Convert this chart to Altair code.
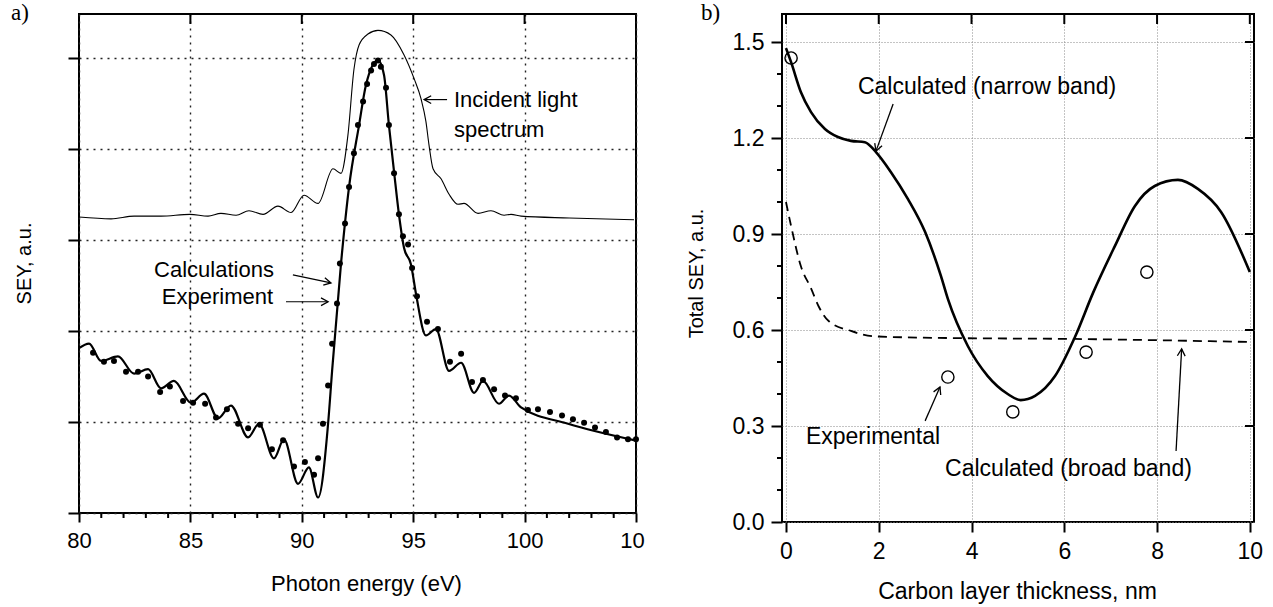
import math
import altair as alt
import pandas as pd

FONT = "Liberation Sans"
SERIF = "Liberation Serif"

# ---------------- panel a) : SEY spectrum vs photon energy ----------------
inc_energy = [80.0, 81.44, 82.47, 83.68, 84.98, 85.79, 86.37, 87.05, 87.63, 88.26,
              88.93, 89.52, 90.10, 90.73, 91.40, 91.76, 92.07, 92.34, 92.57, 92.97,
              93.42, 94.00, 94.59, 95.04, 95.35, 95.57, 95.71, 95.89, 96.25, 96.61,
              97.01, 97.28, 97.91, 98.49, 99.08, 99.39, 99.84, 102.0, 104.91]
inc_value = [3.25, 3.23, 3.26, 3.26, 3.28, 3.26, 3.29, 3.27, 3.32, 3.28,
             3.37, 3.30, 3.49, 3.40, 3.78, 3.73, 4.15, 4.87, 5.14, 5.26,
             5.30, 5.25, 5.03, 4.77, 4.55, 4.30, 4.04, 3.78, 3.67, 3.50,
             3.39, 3.40, 3.29, 3.32, 3.27, 3.28, 3.26, 3.24, 3.22]

calc_energy = [80.0, 80.45, 80.99, 81.75, 82.47, 83.10, 83.68, 84.26, 85.03, 85.61,
               86.24, 86.82, 87.59, 88.08, 88.75, 89.20, 89.83, 90.32, 90.73, 91.18,
               91.36, 91.76, 92.12, 92.57, 92.88, 93.42, 93.69, 93.91, 94.14, 94.36,
               94.59, 94.90, 95.13, 95.57, 96.02, 96.61, 97.15, 97.73, 98.13, 98.85,
               99.30, 99.84, 101.95, 104.91]
calc_value = [1.81, 1.86, 1.67, 1.72, 1.53, 1.58, 1.37, 1.45, 1.21, 1.31,
              1.04, 1.18, 0.83, 0.98, 0.60, 0.81, 0.32, 0.50, 0.17, 0.98,
              1.56, 2.74, 3.58, 4.26, 4.70, 4.97, 4.81, 4.26, 3.75, 3.28,
              2.91, 2.73, 2.40, 1.95, 2.02, 1.56, 1.65, 1.32, 1.45, 1.20,
              1.29, 1.16, 0.98, 0.80]

exp_energy = [80.63, 81.12, 81.57, 82.11, 82.65, 83.10, 83.64, 84.08, 84.67, 85.12,
              85.66, 86.15, 86.64, 87.14, 87.59, 88.12, 88.66, 89.16, 89.65, 90.14,
              90.55, 90.73, 90.95, 91.18, 91.36, 91.58, 91.71, 91.94, 92.12, 92.34,
              92.52, 92.75, 92.93, 93.11, 93.24, 93.42, 93.55, 93.78, 93.91, 94.14,
              94.36, 94.54, 94.77, 94.95, 95.17, 95.62, 96.11, 96.65, 97.15, 97.64,
              98.13, 98.63, 99.12, 99.61, 100.15, 100.60, 101.14, 101.68, 102.17, 102.67,
              103.16, 103.65, 104.15, 104.64, 105.0]
exp_value = [1.76, 1.66, 1.67, 1.55, 1.55, 1.50, 1.33, 1.39, 1.23, 1.21,
             1.20, 1.05, 1.14, 0.98, 0.93, 0.97, 0.70, 0.80, 0.51, 0.56,
             0.42, 0.60, 0.98, 1.40, 1.86, 2.30, 2.74, 3.18, 3.58, 3.95,
             4.26, 4.52, 4.71, 4.86, 4.93, 4.97, 4.90, 4.67, 4.26, 3.73,
             3.28, 3.04, 2.95, 2.69, 2.38, 2.10, 2.02, 1.66, 1.75, 1.44,
             1.46, 1.36, 1.29, 1.26, 1.13, 1.14, 1.11, 1.07, 1.03, 0.99,
             0.94, 0.89, 0.83, 0.81, 0.81]

a_major_x = [80, 85, 90, 95, 100, 105]
a_minor_x = [81, 82, 83, 84, 86, 87, 88, 89, 91, 92, 93, 94, 96, 97, 98, 99, 101, 102, 103, 104]
a_major_y = [0, 1, 2, 3, 4, 5]

# ---------------- panel b) : total SEY vs carbon thickness ----------------
narrow_t = [0.0, 0.11, 0.32, 0.54, 0.84, 1.12, 1.40, 1.70, 1.94, 2.26, 2.63, 3.00,
            3.34, 3.49, 3.92, 4.35, 4.78, 5.06, 5.37, 5.80, 6.23, 6.62, 7.09, 7.52,
            7.95, 8.45, 8.88, 9.38, 10.0]
narrow_v = [1.481, 1.437, 1.344, 1.281, 1.228, 1.203, 1.191, 1.187, 1.156, 1.094,
            1.009, 0.906, 0.769, 0.697, 0.550, 0.456, 0.400, 0.381, 0.394, 0.456,
            0.578, 0.716, 0.862, 0.987, 1.050, 1.069, 1.041, 0.969, 0.781]

broad_t = [0.0, 0.11, 0.32, 0.54, 0.70, 0.92, 1.40, 1.92, 3.49, 6.23, 10.0]
broad_v = [1.00, 0.925, 0.80, 0.73, 0.675, 0.628, 0.597, 0.58, 0.575, 0.572, 0.5625]

meas_t = [0.11, 3.49, 4.89, 6.47, 7.78]
meas_v = [1.45, 0.453, 0.344, 0.531, 0.781]

b_major_x = [0, 2, 4, 6, 8, 10]
b_major_y = [0.0, 0.3, 0.6, 0.9, 1.2, 1.5]
b_minor_y = [0.1, 0.2, 0.4, 0.5, 0.7, 0.8, 1.0, 1.1, 1.3, 1.4]

# ---------------- annotations (data coordinates) ----------------
a_labels = pd.DataFrame({
    "x": [96.83, 96.83, 88.75, 88.71],
    "y": [4.54, 4.21, 2.67, 2.37],
    "t": ["Incident light", "spectrum", "Calculations", "Experiment"],
    "al": ["left", "left", "right", "right"],
})
a_arrows = pd.DataFrame({
    "x": [96.52, 89.60, 89.29], "y": [4.54, 2.615, 2.32],
    "x2": [95.49, 91.31, 91.18], "y2": [4.54, 2.527, 2.32],
})
b_labels = pd.DataFrame({
    "x": [1.55, 0.43, 3.43],
    "y": [1.359, 0.266, 0.166],
    "t": ["Calculated (narrow band)", "Experimental", "Calculated (broad band)"],
})
b_arrows = pd.DataFrame({
    "x": [2.31, 3.00, 8.41], "y": [1.306, 0.316, 0.222],
    "x2": [1.94, 3.32, 8.53], "y2": [1.159, 0.422, 0.541],
})

# ---------------- geometry ----------------
WA, HA = 557, 499
WB, HB = 472, 508
XA_DOM, YA_DOM = [80, 105], [0, 5.48]
XB_DOM, YB_DOM = [-0.086, 10.09], [0, 1.5875]


def head_angles(df, xdom, ydom, w, h):
    sx = w / (xdom[1] - xdom[0])
    sy = h / (ydom[1] - ydom[0])
    ang = []
    for _, r in df.iterrows():
        dx = (r.x2 - r.x) * sx
        dy = -(r.y2 - r.y) * sy
        ang.append(math.degrees(math.atan2(dy, dx)) % 360)
    out = df.copy()
    out["ang"] = ang
    return out


a_arrows = head_angles(a_arrows, XA_DOM, YA_DOM, WA, HA)
b_arrows = head_angles(b_arrows, XB_DOM, YB_DOM, WB, HB)

HEAD = "M -1 -0.55 L 0 0 L -1 0.55"

# ---------------- shared encodings for panel a ----------------
xa_scale = alt.Scale(domain=XA_DOM, nice=False, zero=False)
ya_scale = alt.Scale(domain=YA_DOM, nice=False, zero=False)

xa_axis = alt.Axis(
    values=a_major_x, title="Photon energy (eV)",
    labelExpr="datum.value == 105 ? '10' : datum.label",
    labelFlush=False,
    labelOffset={"condition": {"test": "datum.value == 105", "value": -4}, "value": 0},
    tickSize=9, tickWidth=2, tickColor="black", domain=False,
    labelFont=FONT, labelFontSize=22, labelColor="black", labelPadding=8,
    grid=True, gridDash=[2, 5], gridColor="#222", gridWidth=1.4,
    titleFont=FONT, titleFontSize=22, titleFontWeight="normal", titleColor="black",
    titleX=287, titleY=70, titleBaseline="middle", titleAlign="center",
)
ya_axis = alt.Axis(
    values=a_major_y, title="SEY, a.u.", labels=False,
    tickSize=11, tickWidth=2, tickColor="black", domain=False,
    grid=True, gridDash=[2, 5], gridColor="#222", gridWidth=1.4,
    titleFont=FONT, titleFontSize=20, titleFontWeight="normal", titleColor="black",
    titleAngle=270, titleX=-55, titleY=249, titleBaseline="middle", titleAlign="center",
)


def xa(field="x"):
    return alt.X(f"{field}:Q", scale=xa_scale, axis=xa_axis)


def ya(field="y"):
    return alt.Y(f"{field}:Q", scale=ya_scale, axis=ya_axis)


inc_df = pd.DataFrame({"x": inc_energy, "y": inc_value})
calc_df = pd.DataFrame({"x": calc_energy, "y": calc_value})
exp_df = pd.DataFrame({"x": exp_energy, "y": exp_value})

a_incident = alt.Chart(inc_df).mark_line(color="black", strokeWidth=1.1, interpolate="monotone").encode(x=xa(), y=ya())
a_calc = alt.Chart(calc_df).mark_line(color="black", strokeWidth=2.2, interpolate="monotone").encode(x=xa(), y=ya())
a_exp = alt.Chart(exp_df).mark_circle(color="black", size=36, opacity=1).encode(x=xa(), y=ya())

a_top_ticks = alt.Chart(pd.DataFrame({"x": a_major_x[1:-1]})).mark_rule(color="black", strokeWidth=2).encode(
    x=xa(), y=alt.value(0), y2=alt.value(10))
a_minor = alt.Chart(pd.DataFrame({"x": a_minor_x})).mark_rule(color="black", strokeWidth=2).encode(
    x=xa(), y=alt.value(HA), y2=alt.value(HA + 5))

a_text_l = alt.Chart(a_labels[a_labels.al == "left"]).mark_text(
    font=FONT, fontSize=22, baseline="middle", align="left", color="black").encode(x=xa(), y=ya(), text="t:N")
a_text_r = alt.Chart(a_labels[a_labels.al == "right"]).mark_text(
    font=FONT, fontSize=22, baseline="middle", align="right", color="black").encode(x=xa(), y=ya(), text="t:N")

a_arrow_lines = alt.Chart(a_arrows).mark_rule(color="black", strokeWidth=1.2).encode(
    x=xa(), y=ya(), x2="x2:Q", y2="y2:Q")
a_arrow_heads = alt.Chart(a_arrows).mark_point(shape=HEAD, filled=False, color="black", strokeWidth=1.3,
                                               size=200, opacity=1).encode(
    x=xa("x2"), y=ya("y2"), angle=alt.Angle("ang:Q", scale=None))

a_tag = alt.Chart(pd.DataFrame({"t": ["a)"]})).mark_text(
    font=SERIF, fontSize=23, align="left", baseline="alphabetic", color="black").encode(
    x=alt.value(-68), y=alt.value(6), text="t:N")

panel_a = alt.layer(
    a_incident, a_calc, a_exp, a_top_ticks, a_minor,
    a_text_l, a_text_r, a_arrow_lines, a_arrow_heads, a_tag,
).properties(width=WA, height=HA)

# ---------------- panel b ----------------
xb_scale = alt.Scale(domain=XB_DOM, nice=False, zero=False)
yb_scale = alt.Scale(domain=YB_DOM, nice=False, zero=False)

xb_axis = alt.Axis(
    values=b_major_x, title="Carbon layer thickness, nm", format="d", labelFlush=False,
    tickSize=10, tickWidth=2, tickColor="black", domain=False,
    labelFont=FONT, labelFontSize=23, labelColor="black", labelPadding=8,
    grid=True, gridDash=[1, 2], gridColor="#888", gridWidth=1,
    titleFont=FONT, titleFontSize=23, titleFontWeight="normal", titleColor="black",
    titleX=235, titleY=69, titleBaseline="middle", titleAlign="center",
)
yb_axis = alt.Axis(
    values=b_major_y, title="Total SEY, a.u.", format=".1f", labelFlush=False,
    tickSize=11, tickWidth=2, tickColor="black", domain=False,
    labelFont=FONT, labelFontSize=23, labelColor="black", labelPadding=7,
    grid=True, gridDash=[1, 2], gridColor="#888", gridWidth=1,
    titleFont=FONT, titleFontSize=20, titleFontWeight="normal", titleColor="black",
    titleAngle=270, titleX=-86, titleY=259, titleBaseline="middle", titleAlign="center",
)


def xb(field="x"):
    return alt.X(f"{field}:Q", scale=xb_scale, axis=xb_axis)


def yb(field="y"):
    return alt.Y(f"{field}:Q", scale=yb_scale, axis=yb_axis)


narrow_df = pd.DataFrame({"x": narrow_t, "y": narrow_v})
broad_df = pd.DataFrame({"x": broad_t, "y": broad_v})
meas_df = pd.DataFrame({"x": meas_t, "y": meas_v})

b_narrow = alt.Chart(narrow_df).mark_line(color="black", strokeWidth=2.6, interpolate="monotone").encode(x=xb(), y=yb())
b_broad = alt.Chart(broad_df).mark_line(color="black", strokeWidth=1.8, strokeDash=[9, 6],
                                        interpolate="monotone").encode(x=xb(), y=yb())
b_meas = alt.Chart(meas_df).mark_point(shape="circle", filled=False, color="black", strokeWidth=1.4,
                                       size=150, opacity=1).encode(x=xb(), y=yb())

b_top_ticks = alt.Chart(pd.DataFrame({"x": b_major_x})).mark_rule(color="black", strokeWidth=2).encode(
    x=xb(), y=alt.value(0), y2=alt.value(10))
b_right_ticks = alt.Chart(pd.DataFrame({"y": b_major_y[1:]})).mark_rule(color="black", strokeWidth=2).encode(
    y=yb(), x=alt.value(WB - 9), x2=alt.value(WB))
b_minor = alt.Chart(pd.DataFrame({"y": b_minor_y})).mark_rule(color="black", strokeWidth=2).encode(
    y=yb(), x=alt.value(-5), x2=alt.value(0))

b_text = alt.Chart(b_labels).mark_text(font=FONT, fontSize=23, baseline="middle", align="left",
                                       color="black").encode(x=xb(), y=yb(), text="t:N")
b_arrow_lines = alt.Chart(b_arrows).mark_rule(color="black", strokeWidth=1.3).encode(
    x=xb(), y=yb(), x2="x2:Q", y2="y2:Q")
b_arrow_heads = alt.Chart(b_arrows).mark_point(shape=HEAD, filled=False, color="black", strokeWidth=1.3,
                                               size=200, opacity=1).encode(
    x=xb("x2"), y=yb("y2"), angle=alt.Angle("ang:Q", scale=None))

b_tag = alt.Chart(pd.DataFrame({"t": ["b)"]})).mark_text(
    font=SERIF, fontSize=23, align="left", baseline="alphabetic", color="black").encode(
    x=alt.value(-81), y=alt.value(6), text="t:N")

panel_b = alt.layer(
    b_narrow, b_broad, b_meas, b_top_ticks, b_right_ticks, b_minor,
    b_text, b_arrow_lines, b_arrow_heads, b_tag,
).properties(width=WB, height=HB)

chart = alt.hconcat(panel_a, panel_b, spacing=39).properties(
    padding={"left": 10, "top": 1, "right": 0, "bottom": 0},
    background="white",
).configure_view(stroke="black", strokeWidth=2)

chart.save("out.html", embed_options={"renderer": "svg", "actions": False})
